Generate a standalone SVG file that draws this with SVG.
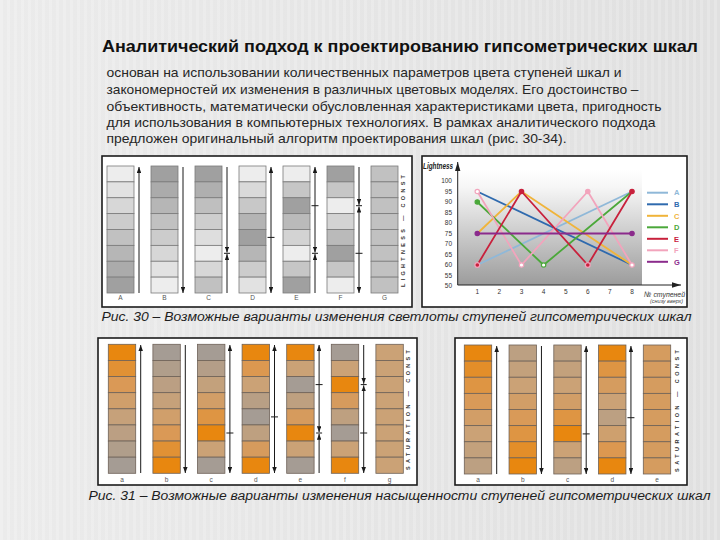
<svg xmlns="http://www.w3.org/2000/svg" width="720" height="540" viewBox="0 0 720 540">
<defs>
<style>
.title{font-family:"Liberation Sans",Arial,sans-serif;font-weight:bold;font-size:16px;fill:#111}
.body{font-family:"Liberation Sans",Arial,sans-serif;font-size:13px;fill:#262626}
.cap{font-family:"Liberation Sans",Arial,sans-serif;font-style:italic;font-size:12.5px;fill:#1e1e1e}
.panel{fill:#fff;stroke:#1c1c1c;stroke-width:1.6}
.cg rect{stroke:#7a7a7a;stroke-width:0.8}
.co rect{stroke:#6e6258;stroke-width:0.8}
.lbl{font-family:"Liberation Sans",Arial,sans-serif;font-size:6.5px;fill:#555;text-anchor:middle}
.vt{font-family:"Liberation Sans",Arial,sans-serif;font-size:5.5px;font-weight:bold;fill:#333;text-anchor:middle}
.ar{stroke:#1a1a1a;stroke-width:1;fill:none}
.arh{stroke:#1a1a1a;stroke-width:1;fill:none;marker-end:url(#ah)}
.ax{font-family:"Liberation Sans",Arial,sans-serif;font-size:6.5px;fill:#333}
.ser{fill:none;stroke-width:1.8;stroke-linejoin:round}
.leg{font-family:"Liberation Sans",Arial,sans-serif;font-size:7.5px;font-weight:bold}
</style>
<marker id="ah" viewBox="0 0 8 6" markerWidth="6" markerHeight="4.5" refX="8" refY="3" orient="auto" markerUnits="userSpaceOnUse"><path d="M0,0 L8,3 L0,6 Z" fill="#1a1a1a"/></marker>
<marker id="axh" viewBox="0 0 10 6" markerWidth="9" markerHeight="6" refX="10" refY="3" orient="auto" markerUnits="userSpaceOnUse"><path d="M0,0 L10,3 L0,6 Z" fill="#222"/></marker>
<linearGradient id="bg" x1="0" y1="0" x2="1" y2="0"><stop offset="0" stop-color="#ebebeb"/><stop offset="1" stop-color="#e0e0e0"/></linearGradient>
<pattern id="stripes" width="7" height="10" patternUnits="userSpaceOnUse"><rect width="3" height="10" fill="#ffffff" opacity="0.18"/></pattern>
<linearGradient id="plot" x1="0" y1="0" x2="0" y2="1"><stop offset="0" stop-color="#ffffff"/><stop offset="0.15" stop-color="#f6f6f6"/><stop offset="1" stop-color="#9c9c9c"/></linearGradient>
</defs>
<rect width="720" height="540" fill="url(#bg)"/>
<rect width="720" height="540" fill="url(#stripes)"/>

<g id="title-text">
<text class="title" x="102" y="51.5" textLength="596" lengthAdjust="spacingAndGlyphs">Аналитический подход к проектированию гипсометрических шкал</text>
<text class="body" x="106.5" y="77" textLength="515" lengthAdjust="spacingAndGlyphs">основан на использовании количественных параметров цвета ступеней шкал и</text>
<text class="body" x="106.5" y="94" textLength="532" lengthAdjust="spacingAndGlyphs">закономерностей их изменения в различных цветовых моделях. Его достоинство –</text>
<text class="body" x="106.5" y="110.5" textLength="555" lengthAdjust="spacingAndGlyphs">объективность, математически обусловленная характеристиками цвета, пригодность</text>
<text class="body" x="106.5" y="127" textLength="549" lengthAdjust="spacingAndGlyphs">для использования в компьютерных технологиях. В рамках аналитического подхода</text>
<text class="body" x="106.5" y="143" textLength="460" lengthAdjust="spacingAndGlyphs">предложен оригинальный алгоритм проектирования шкал (рис. 30-34).</text>
</g>

<!-- Fig 30 left: lightness columns -->
<g id="fig30-columns">
<rect class="panel" x="102" y="156" width="310" height="151"/>
<g class="cg" transform="translate(107,166)">
<rect y="0" width="27" height="15.875" fill="#ededed"/><rect y="15.875" width="27" height="15.875" fill="#e2e2e2"/><rect y="31.75" width="27" height="15.875" fill="#d7d7d7"/><rect y="47.625" width="27" height="15.875" fill="#cccccc"/><rect y="63.5" width="27" height="15.875" fill="#c1c1c1"/><rect y="79.375" width="27" height="15.875" fill="#b6b6b6"/><rect y="95.25" width="27" height="15.875" fill="#ababab"/><rect y="111.125" width="27" height="15.875" fill="#a0a0a0"/>
</g>
<g class="cg" transform="translate(151,166)">
<rect y="0" width="27" height="15.875" fill="#a0a0a0"/><rect y="15.875" width="27" height="15.875" fill="#ababab"/><rect y="31.75" width="27" height="15.875" fill="#b6b6b6"/><rect y="47.625" width="27" height="15.875" fill="#c1c1c1"/><rect y="63.5" width="27" height="15.875" fill="#cccccc"/><rect y="79.375" width="27" height="15.875" fill="#d7d7d7"/><rect y="95.25" width="27" height="15.875" fill="#e2e2e2"/><rect y="111.125" width="27" height="15.875" fill="#ededed"/>
</g>
<g class="cg" transform="translate(195,166)">
<rect y="0" width="27" height="15.875" fill="#a0a0a0"/><rect y="15.875" width="27" height="15.875" fill="#afafaf"/><rect y="31.75" width="27" height="15.875" fill="#bfbfbf"/><rect y="47.625" width="27" height="15.875" fill="#cecece"/><rect y="63.5" width="27" height="15.875" fill="#dedede"/><rect y="79.375" width="27" height="15.875" fill="#ededed"/><rect y="95.25" width="27" height="15.875" fill="#d7d7d7"/><rect y="111.125" width="27" height="15.875" fill="#c1c1c1"/>
</g>
<g class="cg" transform="translate(239,166)">
<rect y="0" width="27" height="15.875" fill="#ededed"/><rect y="15.875" width="27" height="15.875" fill="#d9d9d9"/><rect y="31.75" width="27" height="15.875" fill="#c8c8c8"/><rect y="47.625" width="27" height="15.875" fill="#b4b4b4"/><rect y="63.5" width="27" height="15.875" fill="#a0a0a0"/><rect y="79.375" width="27" height="15.875" fill="#b6b6b6"/><rect y="95.25" width="27" height="15.875" fill="#cccccc"/><rect y="111.125" width="27" height="15.875" fill="#e2e2e2"/>
</g>
<g class="cg" transform="translate(283,166)">
<rect y="0" width="27" height="15.875" fill="#ededed"/><rect y="15.875" width="27" height="15.875" fill="#c6c6c6"/><rect y="31.75" width="27" height="15.875" fill="#a0a0a0"/><rect y="47.625" width="27" height="15.875" fill="#bababa"/><rect y="63.5" width="27" height="15.875" fill="#d3d3d3"/><rect y="79.375" width="27" height="15.875" fill="#ededed"/><rect y="95.25" width="27" height="15.875" fill="#c6c6c6"/><rect y="111.125" width="27" height="15.875" fill="#a0a0a0"/>
</g>
<g class="cg" transform="translate(327,166)">
<rect y="0" width="27" height="15.875" fill="#a0a0a0"/><rect y="15.875" width="27" height="15.875" fill="#c6c6c6"/><rect y="31.75" width="27" height="15.875" fill="#ededed"/><rect y="47.625" width="27" height="15.875" fill="#d3d3d3"/><rect y="63.5" width="27" height="15.875" fill="#bababa"/><rect y="79.375" width="27" height="15.875" fill="#a0a0a0"/><rect y="95.25" width="27" height="15.875" fill="#c6c6c6"/><rect y="111.125" width="27" height="15.875" fill="#ededed"/>
</g>
<g class="cg" transform="translate(371,166)">
<rect y="0" width="27" height="15.875" fill="#c1c1c1"/><rect y="15.875" width="27" height="15.875" fill="#c1c1c1"/><rect y="31.75" width="27" height="15.875" fill="#c1c1c1"/><rect y="47.625" width="27" height="15.875" fill="#c1c1c1"/><rect y="63.5" width="27" height="15.875" fill="#c1c1c1"/><rect y="79.375" width="27" height="15.875" fill="#c1c1c1"/><rect y="95.25" width="27" height="15.875" fill="#c1c1c1"/><rect y="111.125" width="27" height="15.875" fill="#c1c1c1"/>
</g>
<text class="lbl" x="120.5" y="300">A</text><text class="lbl" x="164.5" y="300">B</text><text class="lbl" x="208.5" y="300">C</text><text class="lbl" x="252.5" y="300">D</text><text class="lbl" x="296.5" y="300">E</text><text class="lbl" x="340.5" y="300">F</text><text class="lbl" x="384.5" y="300">G</text>
<text class="vt" transform="translate(405,231) rotate(-90)" textLength="112" lengthAdjust="spacing">LIGHTNESS — CONST</text>
</g>

<!-- Fig 30 right: chart -->
<g id="fig30-chart">
<rect class="panel" x="422" y="156" width="265" height="151"/>
<rect x="458" y="170" width="184" height="115" fill="url(#plot)"/>
<line x1="457.7" y1="285" x2="457.7" y2="162" stroke="#222" stroke-width="1" marker-end="url(#axh)"/>
<line x1="457.7" y1="285" x2="681" y2="285" stroke="#222" stroke-width="1" marker-end="url(#axh)"/>
<text x="423" y="169" font-family="'Liberation Sans',Arial,sans-serif" font-size="8.5" font-style="italic" font-weight="bold" fill="#222" textLength="30" lengthAdjust="spacingAndGlyphs">Lightness</text>
<g class="ax" text-anchor="end">
<text x="452" y="183.3">100</text><text x="452" y="193.8">95</text><text x="452" y="204.3">90</text><text x="452" y="214.8">85</text><text x="452" y="225.3">80</text><text x="452" y="235.8">75</text><text x="452" y="246.3">70</text><text x="452" y="256.8">65</text><text x="452" y="267.3">60</text><text x="452" y="277.8">55</text><text x="452" y="288.3">50</text>
</g>
<g class="ax" text-anchor="middle">
<text x="477.3" y="294">1</text><text x="499.4" y="294">2</text><text x="521.5" y="294">3</text><text x="543.6" y="294">4</text><text x="565.7" y="294">5</text><text x="587.8" y="294">6</text><text x="609.9" y="294">7</text><text x="632" y="294">8</text>
</g>
<text x="644" y="297" font-family="'Liberation Sans',Arial,sans-serif" font-size="8" font-style="italic" fill="#333" textLength="41" lengthAdjust="spacingAndGlyphs">№ ступеней</text>
<text x="650" y="302.5" font-family="'Liberation Sans',Arial,sans-serif" font-size="4.5" font-style="italic" fill="#444" textLength="33" lengthAdjust="spacingAndGlyphs">(снизу вверх)</text>
<polyline class="ser" stroke="#8fb8d8" points="477.3,265 632,191.5"/>
<polyline class="ser" stroke="#2f6aae" points="477.3,191.5 632,265"/>
<polyline class="ser" stroke="#f0b43a" points="477.3,233.5 521.5,191.5 632,265"/>
<polyline class="ser" stroke="#4ba83a" points="477.3,202 543.6,265 632,191.5"/>
<polyline class="ser" stroke="#f2a4bc" points="477.3,191.5 521.5,265 587.8,191.5 632,265"/>
<polyline class="ser" stroke="#c8213c" points="477.3,265 521.5,191.5 587.8,265 632,191.5"/>
<polyline class="ser" stroke="#8b2b8c" points="477.3,233.5 632,233.5"/>
<g stroke-width="1.2">
<circle cx="477.3" cy="191.5" r="2.2" fill="#fff" stroke="#f2a4bc"/>
<circle cx="477.3" cy="202" r="2.2" fill="#4ba83a" stroke="#4ba83a"/>
<circle cx="477.3" cy="233.5" r="2.2" fill="#8b2b8c" stroke="#8b2b8c"/>
<circle cx="477.3" cy="265" r="2.4" fill="#c8213c" stroke="#f2a4bc"/>
<circle cx="521.5" cy="191.5" r="2.2" fill="#c8213c" stroke="#c8213c"/>
<circle cx="521.5" cy="265" r="2.2" fill="#fff" stroke="#f2a4bc"/>
<circle cx="543.6" cy="265" r="2.2" fill="#fff" stroke="#4ba83a"/>
<circle cx="587.8" cy="191.5" r="2.2" fill="#f2a4bc" stroke="#f2a4bc"/>
<circle cx="587.8" cy="265" r="2.4" fill="#c8213c" stroke="#f2a4bc"/>
<circle cx="632" cy="191.5" r="2.2" fill="#c8213c" stroke="#c8213c"/>
<circle cx="632" cy="233.5" r="2.2" fill="#8b2b8c" stroke="#8b2b8c"/>
<circle cx="632" cy="265" r="2.2" fill="#fff" stroke="#f2a4bc"/>
</g>
<g stroke-width="2">
<line x1="647" y1="192.7" x2="668" y2="192.7" stroke="#8fb8d8"/>
<line x1="647" y1="204.3" x2="668" y2="204.3" stroke="#2f6aae"/>
<line x1="647" y1="215.8" x2="668" y2="215.8" stroke="#f0b43a"/>
<line x1="647" y1="227.3" x2="668" y2="227.3" stroke="#4ba83a"/>
<line x1="647" y1="238.8" x2="668" y2="238.8" stroke="#c8213c"/>
<line x1="647" y1="250.3" x2="668" y2="250.3" stroke="#f2a4bc"/>
<line x1="647" y1="261.8" x2="668" y2="261.8" stroke="#8b2b8c"/>
</g>
<g class="leg">
<text x="674" y="195.4" fill="#8fb8d8">A</text>
<text x="674" y="207" fill="#2f6aae">B</text>
<text x="674" y="218.5" fill="#f0b43a">C</text>
<text x="674" y="230" fill="#4ba83a">D</text>
<text x="674" y="241.5" fill="#c8213c">E</text>
<text x="674" y="253" fill="#f2a4bc">F</text>
<text x="674" y="264.5" fill="#8b2b8c">G</text>
</g>
</g>

<text class="cap" x="101.5" y="320.5" textLength="590" lengthAdjust="spacingAndGlyphs">Рис. 30 – Возможные варианты изменения светлоты ступеней гипсометрических шкал</text>

<!-- Fig 31 left -->
<g id="fig31-left">
<rect class="panel" x="98" y="338" width="319" height="147"/>
<g class="co" transform="translate(108.3,344.3)">
<rect y="0" width="27.4" height="16.125" fill="#e8870f"/><rect y="16.125" width="27.4" height="16.125" fill="#e19134"/><rect y="32.25" width="27.4" height="16.125" fill="#da9956"/><rect y="48.375" width="27.4" height="16.125" fill="#d09f6b"/><rect y="64.5" width="27.4" height="16.125" fill="#c6a17a"/><rect y="80.625" width="27.4" height="16.125" fill="#bb9f83"/><rect y="96.75" width="27.4" height="16.125" fill="#b09e8b"/><rect y="112.875" width="27.4" height="16.125" fill="#a59c94"/>
</g>
<g class="co" transform="translate(152.9,344.3)">
<rect y="0" width="27.4" height="16.125" fill="#a59c94"/><rect y="16.125" width="27.4" height="16.125" fill="#b09e8b"/><rect y="32.25" width="27.4" height="16.125" fill="#bb9f83"/><rect y="48.375" width="27.4" height="16.125" fill="#c6a17a"/><rect y="64.5" width="27.4" height="16.125" fill="#d09f6b"/><rect y="80.625" width="27.4" height="16.125" fill="#da9956"/><rect y="96.75" width="27.4" height="16.125" fill="#e19134"/><rect y="112.875" width="27.4" height="16.125" fill="#e8870f"/>
</g>
<g class="co" transform="translate(197.5,344.3)">
<rect y="0" width="27.4" height="16.125" fill="#a59c94"/><rect y="16.125" width="27.4" height="16.125" fill="#b49e88"/><rect y="32.25" width="27.4" height="16.125" fill="#c3a17c"/><rect y="48.375" width="27.4" height="16.125" fill="#d29e67"/><rect y="64.5" width="27.4" height="16.125" fill="#de9543"/><rect y="80.625" width="27.4" height="16.125" fill="#e8870f"/><rect y="96.75" width="27.4" height="16.125" fill="#cba276"/><rect y="112.875" width="27.4" height="16.125" fill="#a59c94"/>
</g>
<g class="co" transform="translate(242.1,344.3)">
<rect y="0" width="27.4" height="16.125" fill="#e8870f"/><rect y="16.125" width="27.4" height="16.125" fill="#dc9850"/><rect y="32.25" width="27.4" height="16.125" fill="#cba276"/><rect y="48.375" width="27.4" height="16.125" fill="#b89f85"/><rect y="64.5" width="27.4" height="16.125" fill="#a59c94"/><rect y="80.625" width="27.4" height="16.125" fill="#bea080"/><rect y="96.75" width="27.4" height="16.125" fill="#d69b5d"/><rect y="112.875" width="27.4" height="16.125" fill="#e8870f"/>
</g>
<g class="co" transform="translate(286.7,344.3)">
<rect y="0" width="27.4" height="16.125" fill="#e8870f"/><rect y="16.125" width="27.4" height="16.125" fill="#cba276"/><rect y="32.25" width="27.4" height="16.125" fill="#a59c94"/><rect y="48.375" width="27.4" height="16.125" fill="#bea080"/><rect y="64.5" width="27.4" height="16.125" fill="#d69b5d"/><rect y="80.625" width="27.4" height="16.125" fill="#e8870f"/><rect y="96.75" width="27.4" height="16.125" fill="#cba276"/><rect y="112.875" width="27.4" height="16.125" fill="#a59c94"/>
</g>
<g class="co" transform="translate(331.3,344.3)">
<rect y="0" width="27.4" height="16.125" fill="#a59c94"/><rect y="16.125" width="27.4" height="16.125" fill="#cba276"/><rect y="32.25" width="27.4" height="16.125" fill="#e8870f"/><rect y="48.375" width="27.4" height="16.125" fill="#d69b5d"/><rect y="64.5" width="27.4" height="16.125" fill="#bea080"/><rect y="80.625" width="27.4" height="16.125" fill="#a59c94"/><rect y="96.75" width="27.4" height="16.125" fill="#cba276"/><rect y="112.875" width="27.4" height="16.125" fill="#e8870f"/>
</g>
<g class="co" transform="translate(375.9,344.3)">
<rect y="0" width="27.4" height="16.125" fill="#cba276"/><rect y="16.125" width="27.4" height="16.125" fill="#cba276"/><rect y="32.25" width="27.4" height="16.125" fill="#cba276"/><rect y="48.375" width="27.4" height="16.125" fill="#cba276"/><rect y="64.5" width="27.4" height="16.125" fill="#cba276"/><rect y="80.625" width="27.4" height="16.125" fill="#cba276"/><rect y="96.75" width="27.4" height="16.125" fill="#cba276"/><rect y="112.875" width="27.4" height="16.125" fill="#cba276"/>
</g>
<text class="lbl" x="122" y="482">a</text><text class="lbl" x="166.6" y="482">b</text><text class="lbl" x="211.2" y="482">c</text><text class="lbl" x="255.8" y="482">d</text><text class="lbl" x="300.4" y="482">e</text><text class="lbl" x="345" y="482">f</text><text class="lbl" x="389.6" y="482">g</text>
<text class="vt" transform="translate(410,410) rotate(-90)" textLength="120" lengthAdjust="spacing">SATURATION — CONST</text>
</g>

<!-- Fig 31 right -->
<g id="fig31-right">
<rect class="panel" x="455" y="338" width="232" height="147"/>
<g class="co" transform="translate(464.3,345)">
<rect y="0" width="27.4" height="16.125" fill="#e8870f"/><rect y="16.125" width="27.4" height="16.125" fill="#e38e29"/><rect y="32.25" width="27.4" height="16.125" fill="#de9543"/><rect y="48.375" width="27.4" height="16.125" fill="#d99a58"/><rect y="64.5" width="27.4" height="16.125" fill="#d29e67"/><rect y="80.625" width="27.4" height="16.125" fill="#cba276"/><rect y="96.75" width="27.4" height="16.125" fill="#c3a17c"/><rect y="112.875" width="27.4" height="16.125" fill="#bca082"/>
</g>
<g class="co" transform="translate(509.05,345)">
<rect y="0" width="27.4" height="16.125" fill="#bca082"/><rect y="16.125" width="27.4" height="16.125" fill="#c3a17c"/><rect y="32.25" width="27.4" height="16.125" fill="#cba276"/><rect y="48.375" width="27.4" height="16.125" fill="#d29e67"/><rect y="64.5" width="27.4" height="16.125" fill="#d99a58"/><rect y="80.625" width="27.4" height="16.125" fill="#de9543"/><rect y="96.75" width="27.4" height="16.125" fill="#e38e29"/><rect y="112.875" width="27.4" height="16.125" fill="#e8870f"/>
</g>
<g class="co" transform="translate(553.8,345)">
<rect y="0" width="27.4" height="16.125" fill="#bca082"/><rect y="16.125" width="27.4" height="16.125" fill="#c3a17c"/><rect y="32.25" width="27.4" height="16.125" fill="#cba276"/><rect y="48.375" width="27.4" height="16.125" fill="#d29e67"/><rect y="64.5" width="27.4" height="16.125" fill="#de9543"/><rect y="80.625" width="27.4" height="16.125" fill="#e8870f"/><rect y="96.75" width="27.4" height="16.125" fill="#cba276"/><rect y="112.875" width="27.4" height="16.125" fill="#bca082"/>
</g>
<g class="co" transform="translate(598.55,345)">
<rect y="0" width="27.4" height="16.125" fill="#e8870f"/><rect y="16.125" width="27.4" height="16.125" fill="#de9543"/><rect y="32.25" width="27.4" height="16.125" fill="#d59c5f"/><rect y="48.375" width="27.4" height="16.125" fill="#cba276"/><rect y="64.5" width="27.4" height="16.125" fill="#bca082"/><rect y="80.625" width="27.4" height="16.125" fill="#cea06e"/><rect y="96.75" width="27.4" height="16.125" fill="#dc9850"/><rect y="112.875" width="27.4" height="16.125" fill="#e8870f"/>
</g>
<g class="co" transform="translate(643.3,345)">
<rect y="0" width="27.4" height="16.125" fill="#d59c5f"/><rect y="16.125" width="27.4" height="16.125" fill="#d59c5f"/><rect y="32.25" width="27.4" height="16.125" fill="#d59c5f"/><rect y="48.375" width="27.4" height="16.125" fill="#d59c5f"/><rect y="64.5" width="27.4" height="16.125" fill="#d59c5f"/><rect y="80.625" width="27.4" height="16.125" fill="#d59c5f"/><rect y="96.75" width="27.4" height="16.125" fill="#d59c5f"/><rect y="112.875" width="27.4" height="16.125" fill="#d59c5f"/>
</g>
<text class="lbl" x="478" y="481.5">a</text><text class="lbl" x="522.75" y="481.5">b</text><text class="lbl" x="567.5" y="481.5">c</text><text class="lbl" x="612.25" y="481.5">d</text><text class="lbl" x="657" y="481.5">e</text>
<text class="vt" transform="translate(678.5,411) rotate(-90)" textLength="122" lengthAdjust="spacing">SATURATION — CONST</text>
</g>

<text class="cap" x="88.5" y="500" textLength="622" lengthAdjust="spacingAndGlyphs">Рис. 31 – Возможные варианты изменения насыщенности ступеней гипсометрических шкал</text>

<g id="arrows">
<!-- fig30 -->
<line class="arh" x1="139" y1="293" x2="139" y2="167"/>
<line class="arh" x1="183" y1="167" x2="183" y2="293"/>
<line class="arh" x1="227" y1="167" x2="227" y2="252.5"/>
<line class="arh" x1="227" y1="293" x2="227" y2="254.1"/>
<line class="ar" x1="224" y1="253.3" x2="230" y2="253.3"/>
<line class="arh" x1="271" y1="237.4" x2="271" y2="167"/>
<line class="arh" x1="271" y1="237.4" x2="271" y2="293"/>
<line class="ar" x1="267.5" y1="237.4" x2="274.5" y2="237.4"/>
<line class="arh" x1="315" y1="205.7" x2="315" y2="167"/>
<line class="arh" x1="315" y1="205.7" x2="315" y2="252.5"/>
<line class="arh" x1="315" y1="293" x2="315" y2="254.1"/>
<line class="ar" x1="311.5" y1="205.7" x2="318.5" y2="205.7"/>
<line class="ar" x1="312" y1="253.3" x2="318" y2="253.3"/>
<line class="arh" x1="359" y1="167" x2="359" y2="204.9"/>
<line class="arh" x1="359" y1="253.3" x2="359" y2="206.5"/>
<line class="arh" x1="359" y1="253.3" x2="359" y2="293"/>
<line class="ar" x1="356" y1="205.7" x2="362" y2="205.7"/>
<line class="ar" x1="355.5" y1="253.3" x2="362.5" y2="253.3"/>
<!-- fig31 left -->
<line class="arh" x1="140.7" y1="473" x2="140.7" y2="345"/>
<line class="arh" x1="185.3" y1="345" x2="185.3" y2="473"/>
<line class="arh" x1="229.9" y1="433" x2="229.9" y2="345"/>
<line class="arh" x1="229.9" y1="433" x2="229.9" y2="473"/>
<line class="ar" x1="226.4" y1="433" x2="233.4" y2="433"/>
<line class="arh" x1="274.5" y1="416.9" x2="274.5" y2="345"/>
<line class="arh" x1="274.5" y1="416.9" x2="274.5" y2="473"/>
<line class="ar" x1="271" y1="416.9" x2="278" y2="416.9"/>
<line class="arh" x1="319.1" y1="384.6" x2="319.1" y2="345"/>
<line class="arh" x1="319.1" y1="384.6" x2="319.1" y2="432.2"/>
<line class="arh" x1="319.1" y1="473" x2="319.1" y2="433.8"/>
<line class="ar" x1="315.6" y1="384.6" x2="322.6" y2="384.6"/>
<line class="ar" x1="316.1" y1="433" x2="322.1" y2="433"/>
<line class="arh" x1="363.7" y1="345" x2="363.7" y2="383.8"/>
<line class="arh" x1="363.7" y1="433" x2="363.7" y2="385.4"/>
<line class="arh" x1="363.7" y1="433" x2="363.7" y2="473"/>
<line class="ar" x1="360.7" y1="384.6" x2="366.7" y2="384.6"/>
<line class="ar" x1="360.2" y1="433" x2="367.2" y2="433"/>
<!-- fig31 right -->
<line class="arh" x1="496.7" y1="474" x2="496.7" y2="346"/>
<line class="arh" x1="541.45" y1="346" x2="541.45" y2="474"/>
<line class="arh" x1="586.2" y1="433.9" x2="586.2" y2="346"/>
<line class="arh" x1="586.2" y1="433.9" x2="586.2" y2="474"/>
<line class="ar" x1="582.7" y1="433.9" x2="589.7" y2="433.9"/>
<line class="arh" x1="630.95" y1="417.7" x2="630.95" y2="346"/>
<line class="arh" x1="630.95" y1="417.7" x2="630.95" y2="474"/>
<line class="ar" x1="627.45" y1="417.7" x2="634.45" y2="417.7"/>
</g>
</svg>
